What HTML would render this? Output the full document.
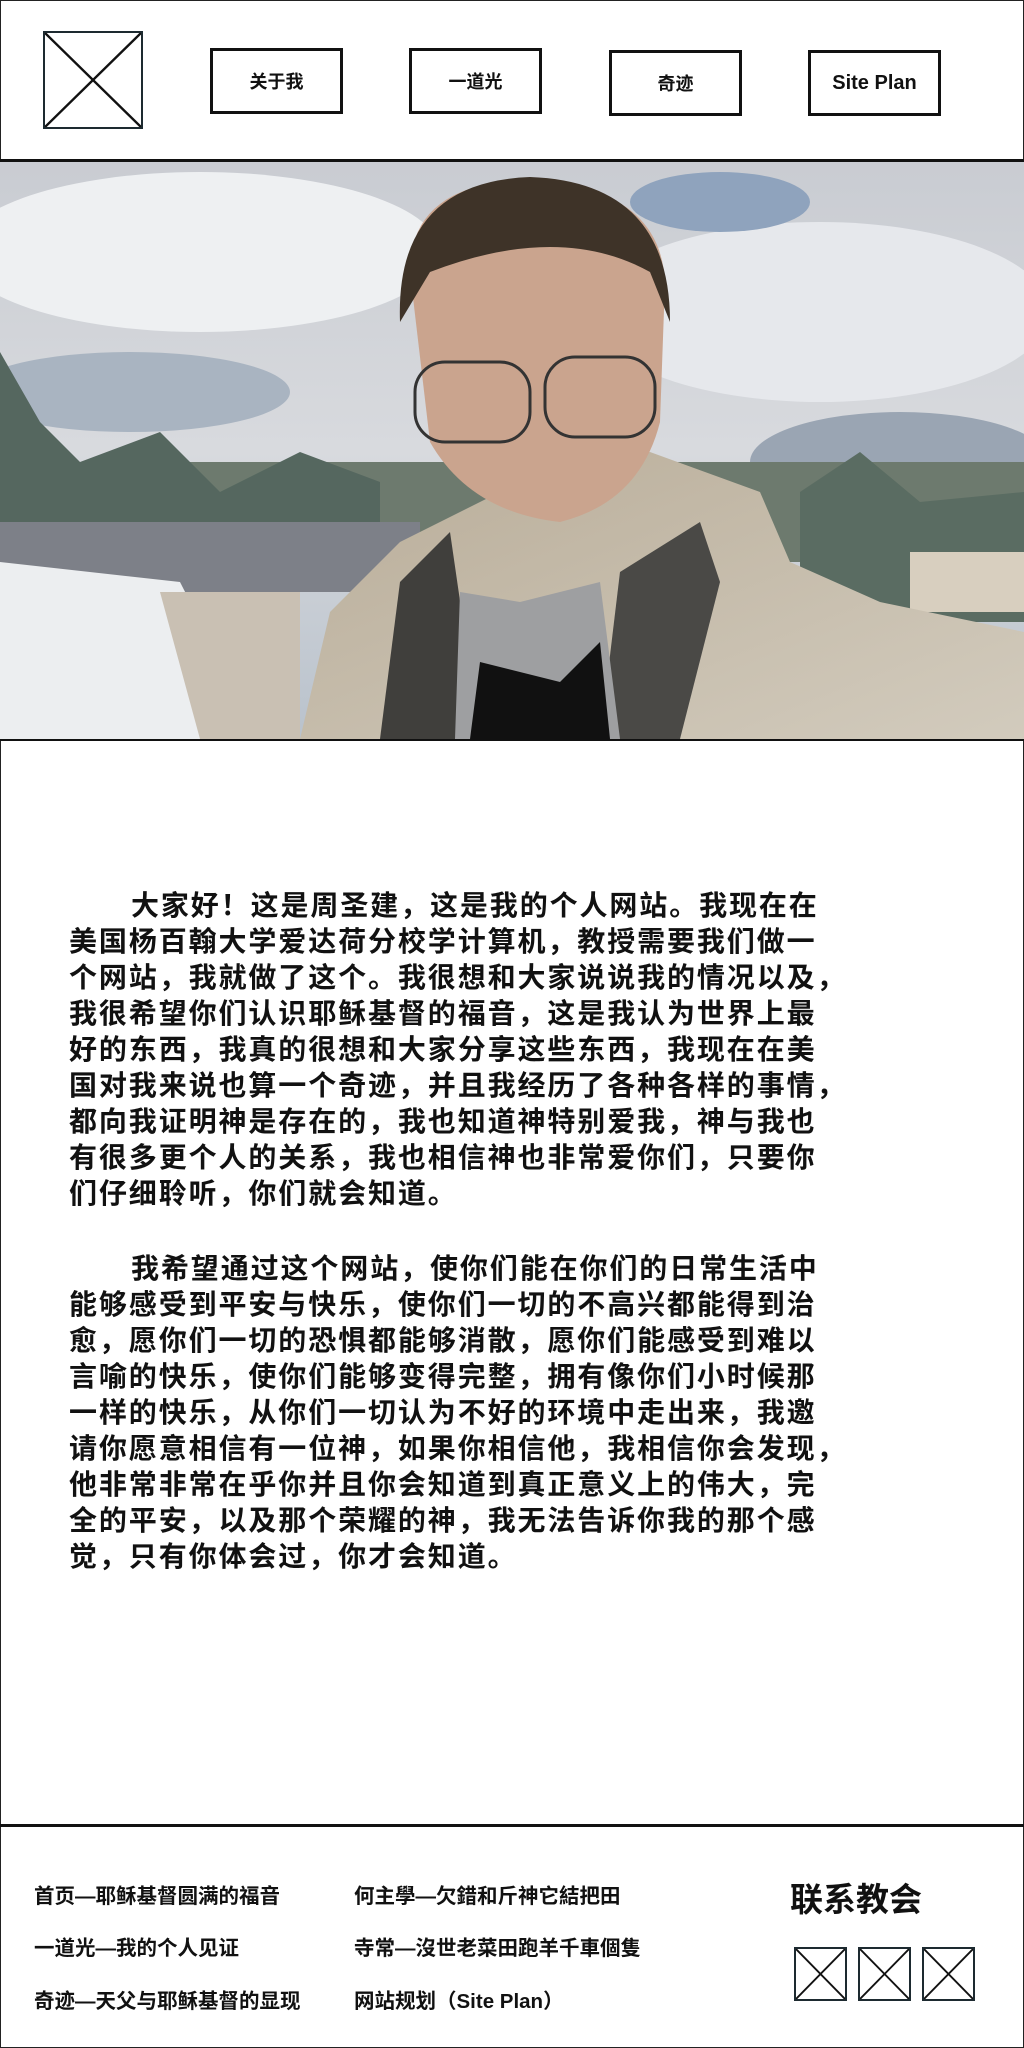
<!DOCTYPE html>
<html><head><meta charset="utf-8">
<style>
html,body{margin:0;padding:0;background:#fff;}
body{width:1024px;height:2048px;position:relative;overflow:hidden;font-family:"Liberation Sans","Noto Sans CJK SC",sans-serif;}
.frame{position:absolute;left:0;top:0;width:1022px;height:2046px;border:1px solid #222;}
.hline{position:absolute;left:0;width:1024px;background:#111;}
.xbox{position:absolute;border:2px solid #1d2a30;box-sizing:border-box;}
.xbox svg{position:absolute;left:0;top:0;width:100%;height:100%;}
.btn{position:absolute;border:3px solid #111;box-sizing:border-box;display:flex;align-items:center;justify-content:center;font-weight:bold;font-size:18px;color:#111;background:#fff;}
.para{position:absolute;left:69px;font-size:28px;font-weight:bold;line-height:36px;letter-spacing:1.9px;color:#111;white-space:pre;}
.ind{display:inline-block;width:62px;}
.foot{position:absolute;font-size:20.5px;font-weight:bold;color:#111;white-space:nowrap;}
</style></head><body>
<div class="frame"></div>

<div class="xbox" style="left:43px;top:31px;width:100px;height:98px;">
<svg viewBox="0 0 100 98" preserveAspectRatio="none"><line x1="0" y1="0" x2="100" y2="98" stroke="#111" stroke-width="2.5"/><line x1="100" y1="0" x2="0" y2="98" stroke="#111" stroke-width="2.5"/></svg></div>
<div class="btn" style="left:210px;top:48px;width:133px;height:66px;">关于我</div>
<div class="btn" style="left:409px;top:48px;width:133px;height:66px;">一道光</div>
<div class="btn" style="left:609px;top:50px;width:133px;height:66px;">奇迹</div>
<div class="btn" style="left:808px;top:50px;width:133px;height:66px;font-size:20px;">Site Plan</div>
<div class="hline" style="top:159px;height:3px;"></div>

<svg style="position:absolute;left:0;top:162px;" width="1024" height="577" viewBox="0 0 1024 577">
<defs>
<linearGradient id="sky" x1="0" y1="0" x2="0" y2="1"><stop offset="0" stop-color="#c9ccd2"/><stop offset="0.5" stop-color="#d8dade"/><stop offset="1" stop-color="#b9c2cc"/></linearGradient>
<linearGradient id="jk" x1="0" y1="0" x2="1" y2="1"><stop offset="0" stop-color="#b9ad99"/><stop offset="1" stop-color="#d2cbbd"/></linearGradient>
</defs>
<rect width="1024" height="577" fill="url(#sky)"/>
<ellipse cx="200" cy="90" rx="240" ry="80" fill="#eef0f2"/>
<ellipse cx="820" cy="150" rx="230" ry="90" fill="#e6e8ec"/>
<ellipse cx="720" cy="40" rx="90" ry="30" fill="#8fa3bd"/>
<ellipse cx="900" cy="300" rx="150" ry="50" fill="#9aa5b3"/>
<ellipse cx="130" cy="230" rx="160" ry="40" fill="#a9b4c1"/>
<rect x="0" y="300" width="1024" height="100" fill="#6d7a6e"/>
<path d="M0 190 L40 260 L80 300 L160 270 L220 330 L300 290 L380 320 L380 420 L0 420Z" fill="#55675f"/>
<path d="M800 330 L860 290 L920 340 L1024 330 L1024 460 L800 460Z" fill="#5a6c62"/>
<rect x="0" y="360" width="420" height="70" fill="#7d8088"/>
<path d="M0 400 L180 420 L260 577 L0 577Z" fill="#eceef0"/>
<path d="M160 430 L300 430 L300 577 L200 577Z" fill="#c9c0b3"/>
<rect x="910" y="390" width="114" height="60" fill="#d8cfbf"/>
<path d="M300 577 L330 450 L400 380 L560 300 L650 290 L760 330 L790 400 L880 440 L1024 470 L1024 577Z" fill="url(#jk)"/>
<path d="M380 577 L400 420 L450 370 L480 577Z" fill="#403f3c"/>
<path d="M600 577 L620 410 L700 360 L720 420 L680 577Z" fill="#4a4946"/>
<path d="M455 577 L460 430 L520 440 L600 420 L620 577Z" fill="#9e9fa1"/>
<path d="M470 577 L480 500 L560 520 L600 480 L610 577Z" fill="#111"/>
<path d="M410 110 Q410 20 530 18 Q660 25 665 120 L660 260 Q640 340 560 360 Q470 350 430 280 Z" fill="#caa48e"/>
<path d="M400 160 Q395 20 530 15 Q670 20 670 160 L650 110 Q560 60 430 110Z" fill="#3e3328"/>
<rect x="415" y="200" width="115" height="80" rx="30" fill="none" stroke="#333" stroke-width="3"/>
<rect x="545" y="195" width="110" height="80" rx="30" fill="none" stroke="#333" stroke-width="3"/>
</svg>
<div class="hline" style="top:739px;height:2px;"></div>

<div class="para" style="top:888px;"><span class="ind"></span>大家好！这是周圣建，这是我的个人网站。我现在在
美国杨百翰大学爱达荷分校学计算机，教授需要我们做一
个网站，我就做了这个。我很想和大家说说我的情况以及，
我很希望你们认识耶稣基督的福音，这是我认为世界上最
好的东西，我真的很想和大家分享这些东西，我现在在美
国对我来说也算一个奇迹，并且我经历了各种各样的事情，
都向我证明神是存在的，我也知道神特别爱我，神与我也
有很多更个人的关系，我也相信神也非常爱你们，只要你
们仔细聆听，你们就会知道。</div>

<div class="para" style="top:1251px;"><span class="ind"></span>我希望通过这个网站，使你们能在你们的日常生活中
能够感受到平安与快乐，使你们一切的不高兴都能得到治
愈，愿你们一切的恐惧都能够消散，愿你们能感受到难以
言喻的快乐，使你们能够变得完整，拥有像你们小时候那
一样的快乐，从你们一切认为不好的环境中走出来，我邀
请你愿意相信有一位神，如果你相信他，我相信你会发现，
他非常非常在乎你并且你会知道到真正意义上的伟大，完
全的平安，以及那个荣耀的神，我无法告诉你我的那个感
觉，只有你体会过，你才会知道。</div>

<div class="hline" style="top:1824px;height:3px;"></div>
<div class="foot" style="left:34px;top:1879px;">首页—耶稣基督圆满的福音</div>
<div class="foot" style="left:34px;top:1931px;">一道光—我的个人见证</div>
<div class="foot" style="left:34px;top:1984px;">奇迹—天父与耶稣基督的显现</div>
<div class="foot" style="left:354px;top:1879px;">何主學—欠錯和斤神它結把田</div>
<div class="foot" style="left:354px;top:1931px;">寺常—沒世老菜田跑羊千車個隻</div>
<div class="foot" style="left:354px;top:1984px;">网站规划（Site Plan）</div>
<div class="foot" style="left:790px;top:1873px;font-size:33px;">联系教会</div>
<div class="xbox" style="left:794px;top:1947px;width:53px;height:54px;"><svg viewBox="0 0 53 54" preserveAspectRatio="none"><line x1="0" y1="0" x2="53" y2="54" stroke="#111" stroke-width="2"/><line x1="53" y1="0" x2="0" y2="54" stroke="#111" stroke-width="2"/></svg></div>
<div class="xbox" style="left:858px;top:1947px;width:53px;height:54px;"><svg viewBox="0 0 53 54" preserveAspectRatio="none"><line x1="0" y1="0" x2="53" y2="54" stroke="#111" stroke-width="2"/><line x1="53" y1="0" x2="0" y2="54" stroke="#111" stroke-width="2"/></svg></div>
<div class="xbox" style="left:922px;top:1947px;width:53px;height:54px;"><svg viewBox="0 0 53 54" preserveAspectRatio="none"><line x1="0" y1="0" x2="53" y2="54" stroke="#111" stroke-width="2"/><line x1="53" y1="0" x2="0" y2="54" stroke="#111" stroke-width="2"/></svg></div>
</body></html>
